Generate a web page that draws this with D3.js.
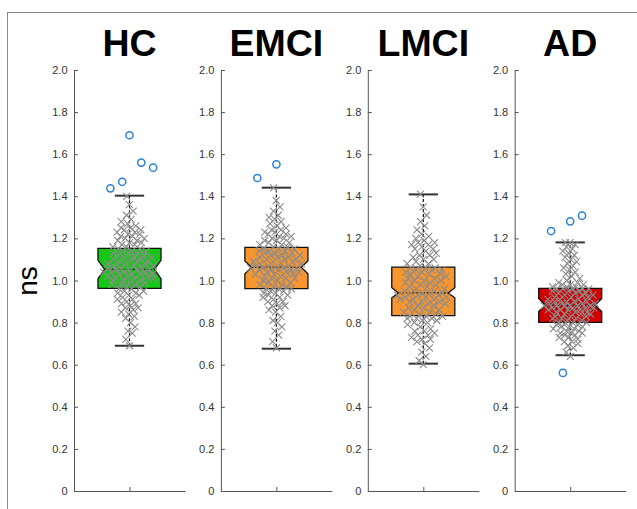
<!DOCTYPE html>
<html lang="en">
<head>
    <meta charset="UTF-8">
    <title>ns boxplots by group</title>
    <script src="https://d3js.org/d3.v7.min.js"></script>
    <style>
        body {
            margin: 0;
            background-color: #fff;
            font-family: "Liberation Sans", Arial, sans-serif;
        }
        .tick text {
            font-size: 11px;
            fill: #333;
        }
    </style>
</head>
<body>
    <script>
        const width = 637;
        const height = 509;

        const groups = ["HC", "EMCI", "LMCI", "AD"];
        const boxColors = ["#14c814", "#f7952f", "#f7952f", "#d20000"];
        const yTicks = [0, 0.2, 0.4, 0.6, 0.8, 1.0, 1.2, 1.4, 1.6, 1.8, 2.0];

        // box stats
        const whiskerLo = [0.690, 0.676, 0.605, 0.645];
        const q1 = [0.963, 0.961, 0.833, 0.801];
        const notchLo = [1.008, 1.032, 0.918, 0.852];
        const medians = [1.053, 1.063, 0.941, 0.882];
        const notchHi = [1.096, 1.093, 0.966, 0.915];
        const q3 = [1.153, 1.157, 1.064, 0.963];
        const whiskerHi = [1.403, 1.441, 1.409, 1.181];

        const outliers = [
            [1.690, 1.438, 1.560, 1.469, 1.536],
            [1.552, 1.487],
            [],
            [1.281, 1.235, 1.308, 0.561]
        ];

        // individual subjects (estimated)
        const hcValues = [
            0.69, 0.72, 0.75, 0.76, 0.78, 0.80, 0.82, 0.83, 0.84, 0.85, 0.86, 0.87, 0.87, 0.88,
            0.89, 0.89, 0.90, 0.91, 0.91, 0.92, 0.93, 0.93, 0.94, 0.94, 0.95, 0.95, 0.96, 0.96,
            0.97, 0.97, 0.98, 0.98, 0.98, 0.99, 0.99, 1.00, 1.00, 1.00, 1.01, 1.01, 1.01, 1.02,
            1.02, 1.02, 1.03, 1.03, 1.03, 1.03, 1.04, 1.04, 1.04, 1.04, 1.05, 1.05, 1.05, 1.05,
            1.06, 1.06, 1.06, 1.07, 1.07, 1.07, 1.08, 1.08, 1.08, 1.09, 1.09, 1.09, 1.10, 1.10,
            1.10, 1.11, 1.11, 1.11, 1.12, 1.12, 1.13, 1.13, 1.13, 1.14, 1.14, 1.14, 1.15, 1.15,
            1.16, 1.16, 1.17, 1.17, 1.18, 1.18, 1.19, 1.19, 1.20, 1.20, 1.21, 1.21, 1.22, 1.22,
            1.23, 1.23, 1.24, 1.24, 1.25, 1.25, 1.26, 1.27, 1.28, 1.29, 1.31, 1.33, 1.36, 1.40
        ];
        const emciValues = [
            0.68, 0.71, 0.74, 0.76, 0.78, 0.80, 0.81, 0.83, 0.85, 0.86, 0.87, 0.88, 0.88, 0.89,
            0.90, 0.90, 0.91, 0.92, 0.92, 0.93, 0.93, 0.94, 0.94, 0.95, 0.95, 0.96, 0.96, 0.96,
            0.97, 0.97, 0.98, 0.98, 0.99, 0.99, 1.00, 1.00, 1.01, 1.01, 1.01, 1.02, 1.02, 1.03,
            1.03, 1.03, 1.04, 1.04, 1.04, 1.05, 1.05, 1.05, 1.05, 1.06, 1.06, 1.06, 1.06, 1.06,
            1.07, 1.07, 1.07, 1.08, 1.08, 1.08, 1.09, 1.09, 1.09, 1.10, 1.10, 1.10, 1.11, 1.11,
            1.11, 1.12, 1.12, 1.12, 1.13, 1.13, 1.13, 1.14, 1.14, 1.14, 1.15, 1.15, 1.15, 1.16,
            1.16, 1.17, 1.17, 1.18, 1.18, 1.19, 1.19, 1.20, 1.20, 1.21, 1.21, 1.22, 1.22, 1.23,
            1.23, 1.24, 1.24, 1.25, 1.26, 1.27, 1.28, 1.29, 1.30, 1.31, 1.33, 1.35, 1.38, 1.44
        ];
        const lmciValues = [
            0.60, 0.62, 0.64, 0.66, 0.68, 0.70, 0.71, 0.72, 0.72, 0.73, 0.74, 0.74, 0.75, 0.76,
            0.76, 0.77, 0.78, 0.79, 0.80, 0.80, 0.81, 0.81, 0.82, 0.82, 0.82, 0.83, 0.83, 0.83,
            0.84, 0.84, 0.85, 0.85, 0.86, 0.86, 0.87, 0.87, 0.88, 0.88, 0.89, 0.89, 0.90, 0.90,
            0.90, 0.91, 0.91, 0.91, 0.92, 0.92, 0.92, 0.93, 0.93, 0.93, 0.94, 0.94, 0.94, 0.94,
            0.95, 0.95, 0.96, 0.96, 0.97, 0.97, 0.98, 0.98, 0.99, 0.99, 1.00, 1.00, 1.00, 1.01,
            1.01, 1.02, 1.02, 1.03, 1.03, 1.03, 1.04, 1.04, 1.05, 1.05, 1.05, 1.06, 1.06, 1.06,
            1.07, 1.08, 1.08, 1.09, 1.10, 1.10, 1.11, 1.12, 1.12, 1.13, 1.14, 1.15, 1.15, 1.16,
            1.17, 1.17, 1.18, 1.18, 1.19, 1.20, 1.21, 1.22, 1.24, 1.26, 1.28, 1.31, 1.35, 1.41
        ];
        const adValues = [
            0.64, 0.66, 0.68, 0.69, 0.70, 0.71, 0.71, 0.72, 0.73, 0.73, 0.74, 0.74, 0.75, 0.75,
            0.75, 0.76, 0.76, 0.77, 0.77, 0.78, 0.78, 0.78, 0.79, 0.79, 0.79, 0.80, 0.80, 0.80,
            0.81, 0.81, 0.82, 0.82, 0.82, 0.83, 0.83, 0.83, 0.84, 0.84, 0.84, 0.85, 0.85, 0.85,
            0.86, 0.86, 0.86, 0.86, 0.87, 0.87, 0.87, 0.87, 0.88, 0.88, 0.88, 0.88, 0.88, 0.88,
            0.89, 0.89, 0.89, 0.89, 0.90, 0.90, 0.90, 0.90, 0.91, 0.91, 0.91, 0.92, 0.92, 0.92,
            0.93, 0.93, 0.93, 0.94, 0.94, 0.94, 0.95, 0.95, 0.95, 0.96, 0.96, 0.96, 0.96, 0.96,
            0.97, 0.97, 0.97, 0.98, 0.98, 0.98, 0.99, 0.99, 1.00, 1.01, 1.02, 1.03, 1.04, 1.05,
            1.06, 1.07, 1.08, 1.09, 1.10, 1.11, 1.12, 1.13, 1.14, 1.15, 1.16, 1.17, 1.18, 1.18
        ];
        const groupValues = [hcValues, emciValues, lmciValues, adValues];

        const svg = d3.select("body").append("svg")
            .attr("width", width)
            .attr("height", height);

        // outer frame, runs off right/bottom edge
        svg.append("rect")
            .attr("x", 7.5).attr("y", 12.5)
            .attr("width", 700).attr("height", 600)
            .attr("fill", "none")
            .attr("stroke", "#8a8a8a");

        const y = d3.scaleLinear().domain([0, 2]).range([491, 70]);

        const panel = d3.scaleBand()
            .domain(groups)
            .range([74, 74 + 4 * 146.9]);

        const panelW = 111;
        // each panel: one category at 1, xlim [0.5, 1.5]
        const x = d3.scaleLinear().domain([0.5, 1.5]).range([0, panelW]);
        const boxHalf = 0.284;
        const capHalf = 0.132;
        const notchIn = 0.06;

        // low-discrepancy jitter in [-1, 1]
        const jitter = i => 2 * (((i * 0.618034 + 0.5) % 1)) - 1;

        function drawX(g, cx, cy, r) {
            g.append("path")
                .attr("d", `M${cx - r},${cy - r}L${cx + r},${cy + r}M${cx - r},${cy + r}L${cx + r},${cy - r}`);
        }

        groups.forEach((name, gi) => {
            const g = svg.append("g")
                .attr("transform", `translate(${panel(name)},0)`);

            // y axis
            const yAxis = d3.axisLeft(y)
                .tickValues(yTicks)
                .tickFormat(d => d === 0 ? "0" : d3.format(".1f")(d))
                .tickSizeInner(-4)
                .tickSizeOuter(0)
                .tickPadding(6.5);
            const ya = g.append("g").call(yAxis);
            ya.select(".domain").attr("stroke", "#555");
            ya.selectAll(".tick line").attr("stroke", "#555");
            ya.selectAll(".tick text")
                .attr("font-family", "Liberation Sans, Arial, sans-serif")
                .attr("font-size", 11);

            // x axis (single centre tick, no label)
            const xAxis = d3.axisBottom(x)
                .tickValues([1])
                .tickFormat("")
                .tickSizeInner(-4)
                .tickSizeOuter(0);
            const xa = g.append("g")
                .attr("transform", `translate(0,${y(0)})`)
                .call(xAxis);
            xa.select(".domain").attr("stroke", "#555");
            xa.selectAll(".tick line").attr("stroke", "#555");

            // title
            g.append("text")
                .attr("x", x(1))
                .attr("y", 56)
                .attr("text-anchor", "middle")
                .attr("font-family", "Liberation Sans, Arial, sans-serif")
                .attr("font-weight", "bold")
                .attr("font-size", 37.5)
                .attr("fill", "#000")
                .text(name);

            const x0 = x(1 - boxHalf), x1 = x(1 + boxHalf), xc = x(1);
            const ni = x(1 + notchIn) - xc;

            // notched box
            const pts = [
                [x0, y(q3[gi])], [x1, y(q3[gi])], [x1, y(notchHi[gi])],
                [x1 - ni, y(medians[gi])], [x1, y(notchLo[gi])], [x1, y(q1[gi])],
                [x0, y(q1[gi])], [x0, y(notchLo[gi])], [x0 + ni, y(medians[gi])],
                [x0, y(notchHi[gi])]
            ];
            g.append("path")
                .attr("d", d3.line()(pts) + "Z")
                .attr("fill", boxColors[gi])
                .attr("stroke", "#111")
                .attr("stroke-width", 1.3);

            // whiskers
            g.append("line")
                .attr("x1", xc).attr("x2", xc)
                .attr("y1", y(q3[gi])).attr("y2", y(whiskerHi[gi]))
                .attr("stroke", "#111").attr("stroke-width", 1.2)
                .attr("stroke-dasharray", "3,2");
            g.append("line")
                .attr("x1", xc).attr("x2", xc)
                .attr("y1", y(q1[gi])).attr("y2", y(whiskerLo[gi]))
                .attr("stroke", "#111").attr("stroke-width", 1.2)
                .attr("stroke-dasharray", "3,2");
            [whiskerHi[gi], whiskerLo[gi]].forEach(v => {
                g.append("line")
                    .attr("x1", x(1 - capHalf)).attr("x2", x(1 + capHalf))
                    .attr("y1", y(v)).attr("y2", y(v))
                    .attr("stroke", "#333").attr("stroke-width", 2);
            });

            // median
            g.append("line")
                .attr("x1", x0 + ni).attr("x2", x1 - ni)
                .attr("y1", y(medians[gi])).attr("y2", y(medians[gi]))
                .attr("stroke", "#111").attr("stroke-width", 1.4)
                .attr("stroke-dasharray", "2,1.5");

            // scattered subjects, jitter width follows local density
            const vals = groupValues[gi];
            const dens = vals.map(v => vals.filter(w => Math.abs(w - v) <= 0.035).length);
            const maxD = d3.max(dens);
            const pg = g.append("g")
                .attr("fill", "none")
                .attr("stroke", "#8c8c8c")
                .attr("stroke-width", 1.1);
            vals.forEach((v, i) => {
                const spread = 3 + 24 * Math.pow(dens[i] / maxD, 1.2);
                drawX(pg, xc + jitter(i) * spread, y(v), 3.5);
            });

            // outliers
            g.selectAll("circle.out")
                .data(outliers[gi])
                .join("circle")
                .attr("class", "out")
                .attr("cx", (d, i) => xc + jitter(i) * 25)
                .attr("cy", d => y(d))
                .attr("r", 3.6)
                .attr("fill", "none")
                .attr("stroke", "#2a80d6")
                .attr("stroke-width", 1.5);
        });

        // y label
        svg.append("text")
            .attr("transform", "translate(37,281) rotate(-90)")
            .attr("text-anchor", "middle")
            .attr("font-family", "Liberation Sans, Arial, sans-serif")
            .attr("font-size", 28)
            .attr("fill", "#000")
            .text("ns");
    </script>
</body>
</html>
